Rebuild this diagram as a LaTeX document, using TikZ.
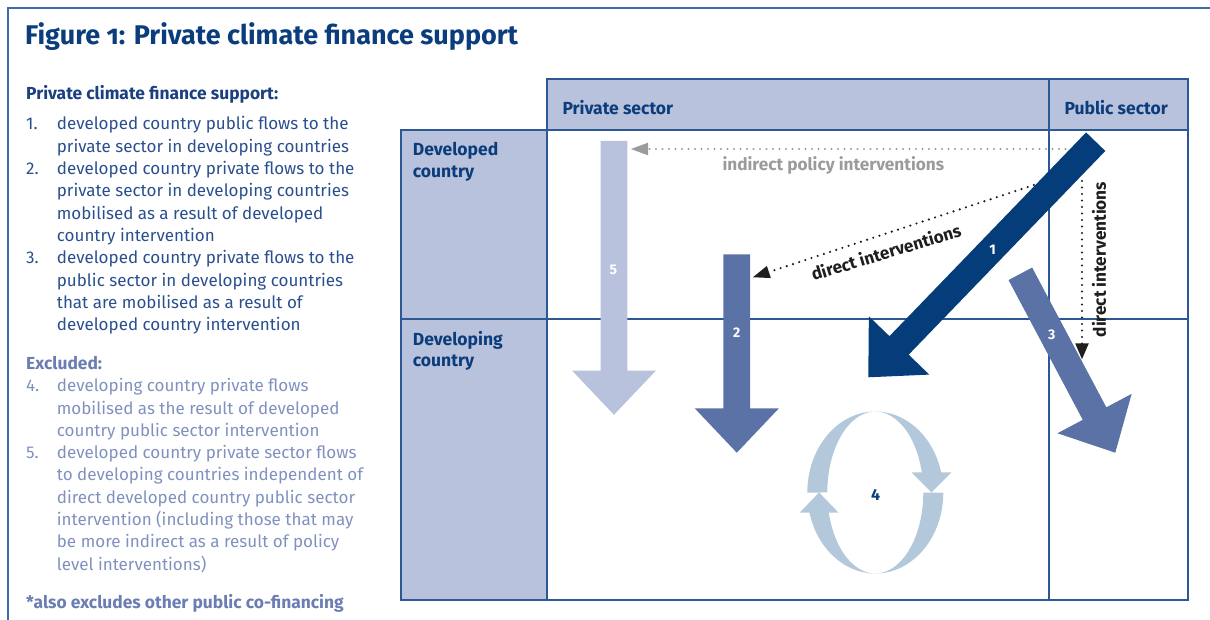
\documentclass[tikz,border=0pt]{standalone}
\usepackage{fontspec}
\setmainfont{Fira Sans}
\usetikzlibrary{arrows.meta,calc}
\definecolor{titleblue}{HTML}{0B3C7C}
\definecolor{headblue}{HTML}{1C3F80}
\definecolor{textblue}{HTML}{2A4F8E}
\definecolor{exblue}{HTML}{8091BF}
\definecolor{exhead}{HTML}{6B7DB2}
\definecolor{frameblue}{HTML}{3F6BA8}
\definecolor{gridblue}{HTML}{2D5896}
\definecolor{cellfill}{HTML}{B9C2DC}
\definecolor{navy}{HTML}{053D7B}
\definecolor{midblue}{HTML}{5B72A6}
\definecolor{paleblue}{HTML}{B9C2DC}
\definecolor{cyclecol}{HTML}{B4C8DB}
\definecolor{dotgrey}{HTML}{9B9B9B}
\definecolor{dotblack}{HTML}{1E1E1E}
\newcommand{\blockarr}[4]{%
  \coordinate (#4b) at ($(#2)!44.3pt!(#1)$);
  \fill[#3] ($(#1)!13.35pt!90:(#2)$) -- ($(#4b)!13.35pt!90:(#2)$)
     -- ($(#4b)!42pt!90:(#2)$) -- (#2) -- ($(#4b)!42pt!-90:(#2)$)
     -- ($(#4b)!13.35pt!-90:(#2)$) -- ($(#1)!13.35pt!-90:(#2)$) -- cycle;
}
\tikzset{
  ln/.style={anchor=base west, inner sep=0pt, font=\fontsize{17}{20}\selectfont, text=textblue},
  exln/.style={ln, text=exblue},
  bln/.style={ln, font=\fontsize{17.4}{20}\selectfont\bfseries},
  hd/.style={anchor=base west, inner sep=0pt, font=\fontsize{17.5}{20}\selectfont\bfseries, text=titleblue},
  num/.style={inner sep=0pt, font=\fontsize{14}{16}\selectfont\bfseries, text=white},
  dotline/.style={line width=2.4pt, dash pattern=on 0pt off 6.5pt, line cap=round},
  dotlab/.style={inner sep=0pt, font=\fontsize{17.2}{20}\selectfont\bfseries},
  grid/.style={draw=gridblue, line width=1.6pt},
}
\begin{document}
\begin{tikzpicture}[x=1pt,y=-1pt]
\useasboundingbox (0,0) rectangle (1210,620);
% outer frame
\draw[frameblue, line width=1.5pt] (8,620) -- (8,8) -- (1210,8);
% title
\node[anchor=base west, inner sep=0pt, font=\fontsize{27}{30}\selectfont\bfseries\addfontfeatures{Numbers=OldStyle}, text=titleblue] (title) at (25,45) {Figure 1: Private climate finance support};
% left text
\node[bln, text=headblue] (lh) at (26,100) {Private climate finance support:};
\node[ln] (n1) at (26,130) {1.};
\node[ln] (l1a) at (56.7,130) {developed country public flows to the};
\node[ln] (l1b) at (56.7,152.3) {private sector in developing countries};
\node[ln] (n2) at (26,174.6) {2.};
\node[ln] (l2a) at (56.7,174.6) {developed country private flows to the};
\node[ln] (l2b) at (56.7,196.9) {private sector in developing countries};
\node[ln] (l2c) at (56.7,219.2) {mobilised as a result of developed};
\node[ln] (l2d) at (56.7,241.5) {country intervention};
\node[ln] (n3) at (26,263.8) {3.};
\node[ln] (l3a) at (56.7,263.8) {developed country private flows to the};
\node[ln] (l3b) at (56.7,286.1) {public sector in developing countries};
\node[ln] (l3c) at (56.7,308.4) {that are mobilised as a result of};
\node[ln] (l3d) at (56.7,330.7) {developed country intervention};
\node[bln, text=exhead] (exh) at (26,369.3) {Excluded:};
\node[exln] (n4) at (26,391.7) {4.};
\node[exln] (l4a) at (56.7,391.7) {developing country private flows};
\node[exln] (l4b) at (56.7,414) {mobilised as the result of developed};
\node[exln] (l4c) at (56.7,436.3) {country public sector intervention};
\node[exln] (n5) at (26,458.6) {5.};
\node[exln] (l5a) at (56.7,458.6) {developed country private sector flows};
\node[exln] (l5b) at (56.7,480.9) {to developing countries independent of};
\node[exln] (l5c) at (56.7,503.2) {direct developed country public sector};
\node[exln] (l5d) at (56.7,525.5) {intervention (including those that may};
\node[exln] (l5e) at (56.7,547.8) {be more indirect as a result of policy};
\node[exln] (l5f) at (56.7,570.1) {level interventions)};
\node[bln, text=exhead] (foot) at (26,608.3) {*also excludes other public co-financing};
% table
\fill[cellfill] (547,79) rectangle (1188,130);
\fill[cellfill] (401,130) rectangle (547,600);
\draw[grid] (547,79) rectangle (1188,130);
\draw[grid] (401,130) rectangle (547,600);
\draw[grid] (547,130) rectangle (1188,600);
\draw[grid] (1049,79) -- (1049,600);
\draw[grid] (401,319) -- (1188,319);
\node[hd] (hpriv) at (562.3,114.3) {Private sector};
\node[hd] (hpub) at (1064.3,114.3) {Public sector};
\node[hd] (hdev1) at (412.7,156) {Developed};
\node[hd] (hdev2) at (412.7,177.7) {country};
\node[hd] (hdvg1) at (412.7,345) {Developing};
\node[hd] (hdvg2) at (412.7,366.7) {country};
% dotted connectors
\coordinate (gS) at (1072,149);
\coordinate (gT) at (630.7,149);
\draw[dotline, dotgrey, -{Triangle[length=17.5pt,width=12pt]}] (gS) -- (gT);
\coordinate (dS) at (1040,183);
\coordinate (dT) at (752.7,277.3);
\draw[dotline, dotblack, -{Triangle[length=17pt,width=12pt]}] (dS) -- (dT);
\coordinate (vS) at (1082,181);
\coordinate (vT) at (1082,359.3);
\draw[dotline, dotblack, -{Triangle[length=16pt,width=13pt]}] (vS) -- (vT);
\node[dotlab, text=dotgrey, anchor=base west] (lind) at (722.3,170.7) {indirect policy interventions};
\node[dotlab, text=dotblack, rotate=16.8] (ldir) at (886,252) {direct interventions};
\node[dotlab, text=dotblack, rotate=90] (lvert) at (1099,259.5) {direct interventions};
% block arrows
\coordinate (a5s) at (614,141);
\coordinate (a5t) at (614,414.8);
\blockarr{a5s}{a5t}{paleblue}{a5}
\coordinate (a2s) at (736.8,254.3);
\coordinate (a2t) at (736.8,452.7);
\blockarr{a2s}{a2t}{midblue}{a2}
\coordinate (a1s) at (1095.7,141.7);
\coordinate (a1t) at (868.3,377.3);
\blockarr{a1s}{a1t}{navy}{a1}
\coordinate (a3s) at (1020.35,273.8);
\coordinate (a3t) at (1115.3,452.7);
\blockarr{a3s}{a3t}{midblue}{a3}
% cycle arrow 4
\fill[cyclecol] (807.3,492.5) arc[start angle=180, end angle=345.56, x radius=68, y radius=81]
  -- (951.5,472.3) -- (931.5,492.5) -- (911.5,472.3)
  -- (921.8,472.3) arc[start angle=345.56, end angle=180, x radius=48, y radius=81] -- cycle;
\fill[cyclecol] (943.3,492.5) arc[start angle=0, end angle=165.56, x radius=68, y radius=81]
  -- (799.6,512.7) -- (819.1,492.5) -- (838.6,512.7)
  -- (828.8,512.7) arc[start angle=165.56, end angle=0, x radius=48, y radius=81] -- cycle;
% numbers
\node[num] (k1) at (992.7,249.3) {1};
\node[num] (k2) at (736.7,332.3) {2};
\node[num] (k3) at (1051.7,334.3) {3};
\node[num] (k5) at (613.3,270) {5};
\node[num, text=titleblue, font=\fontsize{16}{18}\selectfont\bfseries] (k4) at (875.7,495) {4};
\end{tikzpicture}
\end{document}
